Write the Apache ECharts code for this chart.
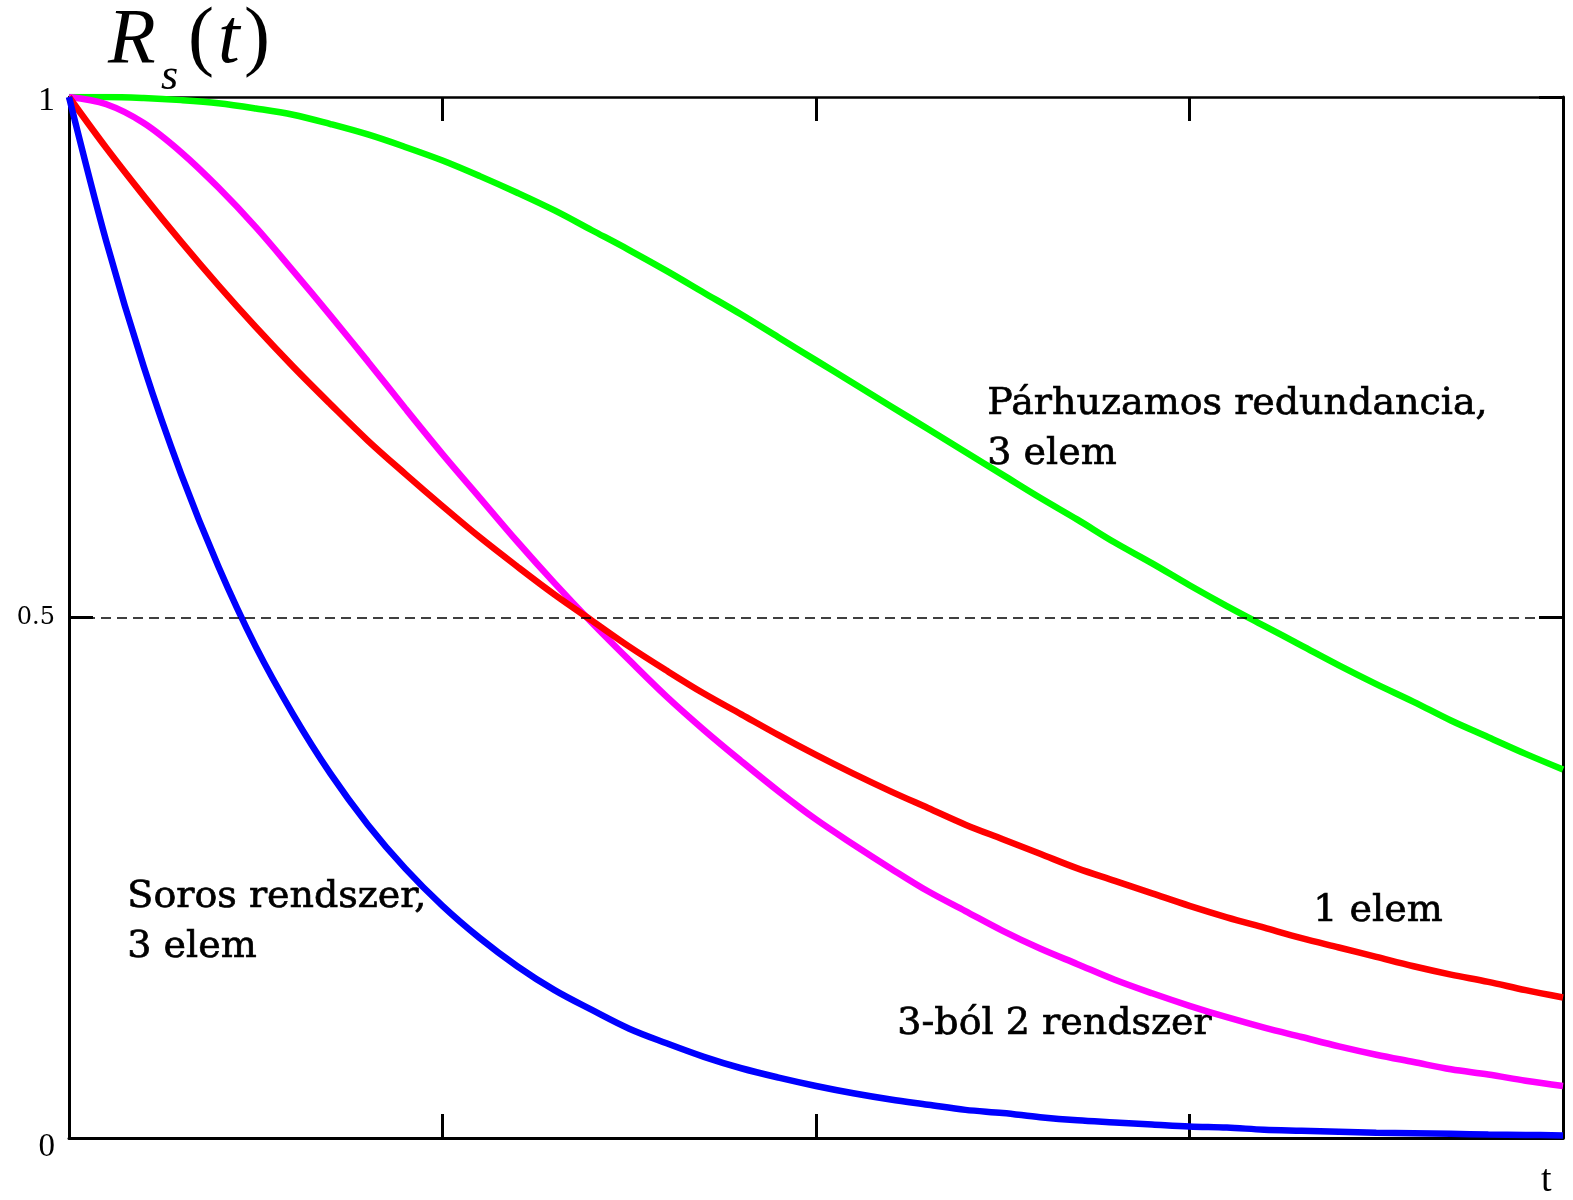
<!DOCTYPE html>
<html>
<head>
<meta charset="utf-8">
<script src="https://cdn.jsdelivr.net/npm/echarts@6/dist/echarts.min.js"></script>
<style>
html,body{margin:0;padding:0;background:#fff;}
#chart{width:1573px;height:1200px;}
</style>
</head>
<body>
<div id="chart"></div>
<script>
// time axis (t): 0 .. 2
const tValues = [0,0.05,0.1,0.15,0.2,0.25,0.3,0.35,0.4,0.45,0.5,0.55,0.6,0.65,0.7,0.75,0.8,0.85,0.9,0.95,1,1.05,1.1,1.15,1.2,1.25,1.3,1.35,1.4,1.45,1.5,1.55,1.6,1.65,1.7,1.75,1.8,1.85,1.9,1.95,2];
// 1 elem (red)
const oneElem = [1,0.951,0.905,0.861,0.819,0.779,0.741,0.705,0.670,0.638,0.607,0.577,0.549,0.522,0.497,0.472,0.449,0.427,0.407,0.387,0.368,0.350,0.333,0.317,0.301,0.287,0.273,0.259,0.247,0.235,0.223,0.212,0.202,0.192,0.183,0.174,0.165,0.157,0.150,0.142,0.135];
// Soros rendszer, 3 elem (blue)
const serial3 = [1,0.861,0.741,0.638,0.549,0.472,0.407,0.350,0.301,0.259,0.223,0.192,0.165,0.142,0.123,0.105,0.091,0.078,0.067,0.058,0.050,0.043,0.037,0.032,0.027,0.024,0.020,0.017,0.015,0.013,0.011,0.010,0.008,0.007,0.006,0.005,0.0045,0.004,0.0033,0.003,0.0025];
// Párhuzamos redundancia, 3 elem (green)
const parallel3 = [1,1.000,0.999,0.997,0.994,0.989,0.983,0.974,0.964,0.952,0.939,0.924,0.908,0.891,0.872,0.853,0.833,0.812,0.791,0.769,0.747,0.725,0.703,0.681,0.659,0.637,0.615,0.594,0.572,0.552,0.531,0.511,0.492,0.473,0.454,0.436,0.419,0.401,0.385,0.369,0.354];
// 3-ból 2 rendszer (magenta)
const twoOfThree = [1,0.993,0.975,0.947,0.913,0.875,0.833,0.790,0.746,0.701,0.657,0.615,0.573,0.533,0.495,0.459,0.424,0.392,0.362,0.333,0.306,0.282,0.259,0.237,0.218,0.199,0.182,0.167,0.152,0.139,0.127,0.116,0.106,0.097,0.088,0.080,0.073,0.066,0.061,0.055,0.050];
// tick labels
const yTickLabels = {0:'{lo|0}', 0.5:'{mid|0.5}', 1:'{hi|1}'};

const pairs = arr => tValues.map((t,i)=>[t, arr[i]]);

const chart = echarts.init(document.getElementById('chart'), null, {renderer:'canvas'});
const axisLine = {show:true, onZero:false, lineStyle:{color:'#000', width:3}};
const tick = {show:true, inside:true, length:24, lineStyle:{color:'#000', width:3}};

function lineSeries(name, arr, color, extra){
  return Object.assign({
    name, type:'line', data:pairs(arr), showSymbol:false, smooth:0.35,
    lineStyle:{color, width:6.5}, itemStyle:{color}, silent:true, animation:false
  }, extra||{});
}
const annStyle = {font:'38px "DejaVu Serif"', lineHeight:50, fill:'#000', stroke:'#000', lineWidth:0.7};

chart.setOption({
  animation:false,
  backgroundColor:'#fff',
  grid:{left:69, top:97, width:1494, height:1041},
  xAxis:[
    {type:'value', min:0, max:2, interval:0.5, position:'bottom', axisLine, axisTick:tick, axisLabel:{show:false}, splitLine:{show:false}},
    {type:'value', min:0, max:2, interval:0.5, position:'top', axisLine:{show:true, onZero:false, lineStyle:{color:'#000', width:2.5}}, axisTick:tick, axisLabel:{show:false}, splitLine:{show:false}}
  ],
  yAxis:[
    {type:'value', min:0, max:1, interval:0.5, position:'left', axisLine, axisTick:tick, splitLine:{show:false},
     axisLabel:{show:true, margin:14, color:'#000', formatter:v=>yTickLabels[v],
       rich:{
         hi:{fontFamily:'Liberation Serif', fontSize:34, color:'#000', padding:[8,0,0,0]},
         mid:{fontFamily:'DejaVu Serif', fontSize:24, color:'#000'},
         lo:{fontFamily:'Liberation Serif', fontSize:33, color:'#000', padding:[18,0,0,0]}
       }}},
    {type:'value', min:0, max:1, interval:0.5, position:'right', axisLine, axisTick:tick, splitLine:{show:false}, axisLabel:{show:false}}
  ],
  series:[
    lineSeries('Párhuzamos redundancia, 3 elem', parallel3, '#00ff00', {
      markLine:{silent:true, symbol:'none', label:{show:false},
        lineStyle:{type:[10,6], color:'#000', width:1.5}, data:[{yAxis:0.5}]}
    }),
    lineSeries('3-ból 2 rendszer', twoOfThree, '#ff00ff'),
    lineSeries('1 elem', oneElem, '#ff0000'),
    lineSeries('Soros rendszer, 3 elem', serial3, '#0000ff')
  ],
  graphic:[
    {type:'text', left:108, top:2, style:{text:'R', font:'italic 78px "Liberation Serif"', fill:'#000'}},
    {type:'text', left:161, top:55, style:{text:'s', font:'italic 44px "Liberation Serif"', fill:'#000'}},
    {type:'text', left:188, top:2, style:{text:'(', font:'78px "Liberation Serif"', fill:'#000'}},
    {type:'text', left:218, top:2, style:{text:'t', font:'italic 78px "Liberation Serif"', fill:'#000'}},
    {type:'text', left:244, top:2, style:{text:')', font:'78px "Liberation Serif"', fill:'#000'}},
    {type:'text', left:1541, top:1162, style:{text:'t', font:'38px "Liberation Serif"', fill:'#000'}},
    {type:'text', left:987, top:379, style:Object.assign({text:'Párhuzamos redundancia,\n3 elem'}, annStyle)},
    {type:'text', left:1313, top:886, style:Object.assign({text:'1 elem'}, annStyle)},
    {type:'text', left:897, top:999, style:Object.assign({text:'3-ból 2 rendszer'}, annStyle)},
    {type:'text', left:127, top:872, style:Object.assign({text:'Soros rendszer,\n3 elem'}, annStyle)}
  ]
});
</script>
</body>
</html>
